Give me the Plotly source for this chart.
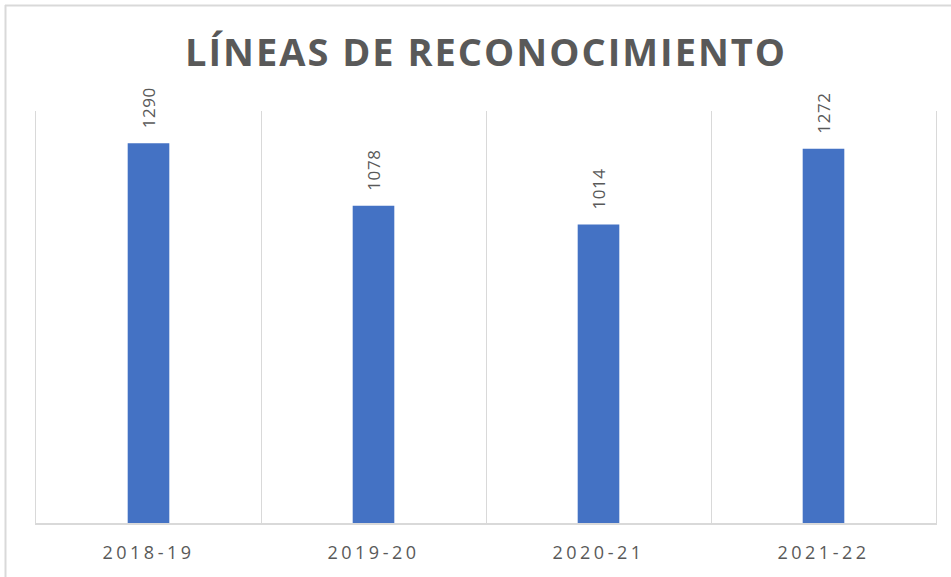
import plotly.graph_objects as go

categories = ["2018-19", "2019-20", "2020-21", "2021-22"]
values = [1290, 1078, 1014, 1272]
title_text = "LÍNEAS DE RECONOCIMIENTO"

GRAY = "#595959"
LINE = "#d9d9d9"
BLUE = "#4472C4"

def spaced(t, px):
    return f'<span style="letter-spacing:{px}px">{t}</span>'

fig = go.Figure()
fig.add_trace(go.Bar(
    x=categories, y=values,
    marker=dict(color=BLUE, line=dict(width=0)),
    width=0.185,
    hoverinfo="x+y",
))

for c, v in zip(categories, values):
    fig.add_annotation(
        x=c, y=v, text=spaced(str(v), 0.6), textangle=-90,
        showarrow=False, yanchor="bottom", xanchor="center",
        yshift=13, font=dict(family="Open Sans", size=17, color=GRAY),
    )

fig.update_layout(
    width=951, height=577,
    paper_bgcolor="white", plot_bgcolor="white",
    margin=dict(l=36, r=15, t=111, b=54),
    showlegend=False,
    title=dict(
        text=spaced(title_text, 2),
        x=0.5, xref="paper", xanchor="center",
        y=1 - 53 / 577, yref="container", yanchor="middle",
        font=dict(family="Open Sans", size=38, color=GRAY, weight="bold"),
    ),
    xaxis=dict(
        type="category", range=[-0.5, 3.5],
        tickson="boundaries", showgrid=True, gridcolor=LINE, gridwidth=1,
        showline=True, linecolor=LINE, linewidth=2,
        ticks="", tickmode="array", tickvals=categories,
        ticktext=[spaced(c, 3.5) for c in categories],
        tickfont=dict(family="Open Sans", size=18, color=GRAY),
        ticklabelstandoff=12,
        zeroline=False,
    ),
    yaxis=dict(
        range=[0, 1400], showgrid=False, showticklabels=False,
        zeroline=False, showline=True, mirror=True, linecolor=LINE,
        linewidth=1, ticks="",
    ),
    shapes=[
        dict(type="line", xref="paper", yref="paper",
             x0=-31 / 900, x1=1.2, y0=1 + 105.5 / 412, y1=1 + 105.5 / 412,
             line=dict(color=LINE, width=2)),
        dict(type="line", xref="paper", yref="paper",
             x0=-30.5 / 900, x1=-30.5 / 900, y0=1 + 106 / 412, y1=-0.3,
             line=dict(color=LINE, width=2)),
    ],
)

fig.write_html("out.html", config={"displayModeBar": False},
               post_script="document.body.style.margin='0';")
